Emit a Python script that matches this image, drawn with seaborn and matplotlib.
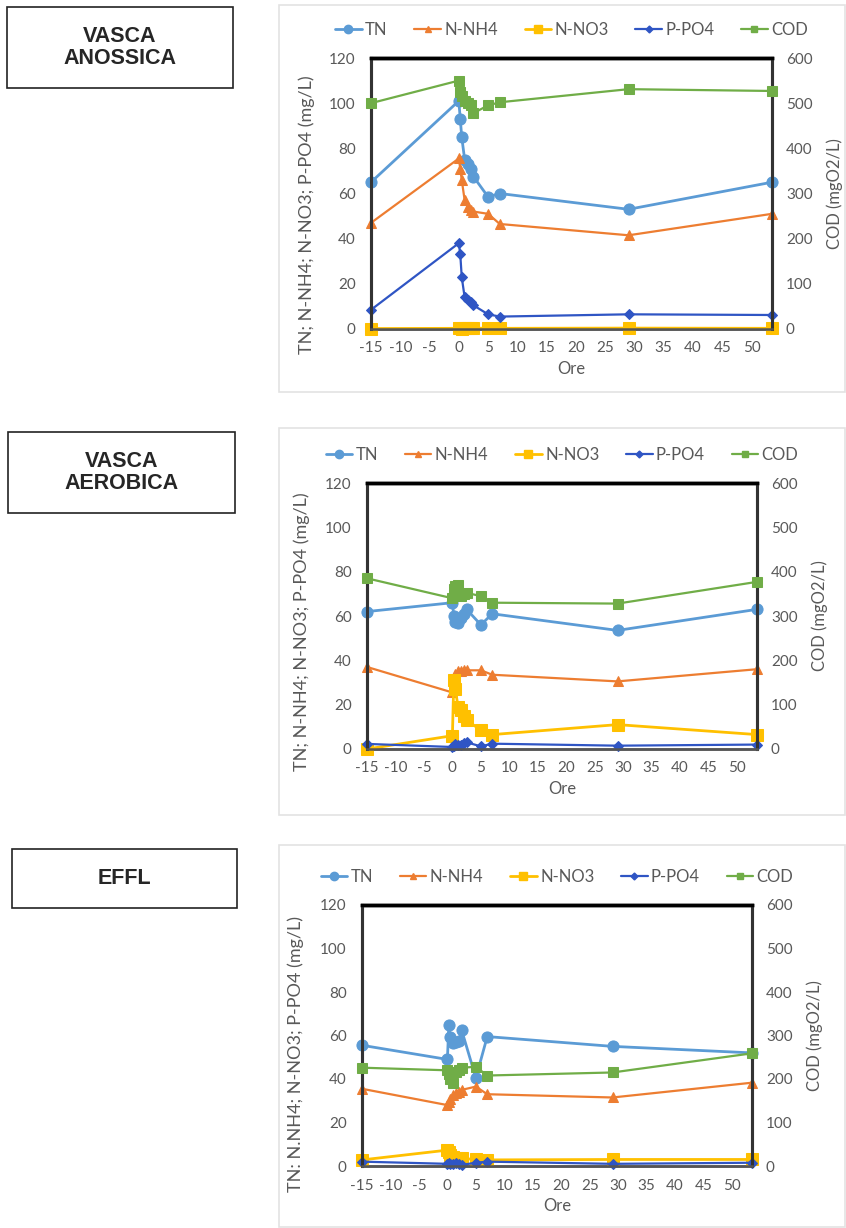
import pandas as pd
import matplotlib
matplotlib.use("Agg")
import matplotlib.pyplot as plt
from matplotlib.lines import Line2D
from matplotlib.patches import Rectangle
import seaborn as sns

# Dati (ore di campionamento e concentrazioni)
ore = [-15, 0, 0.25, 0.5, 1, 1.5, 2, 2.5, 5, 7, 29, 53.5]

anox_tn = [65, 101, 93, 85, 75, 73, 71, 67.5, 58.5, 60, 53, 65]
anox_nh4 = [47, 75.5, 71, 66, 57, 54, 52.5, 52, 51, 46.5, 41.5, 51]
anox_no3 = [0.2, 0.3, 0.3, 0.2, 0.3, 0.4, 0.3, 0.3, 0.4, 0.3, 0.4, 0.3]
anox_po4 = [8.5, 38, 33, 23, 14, 13, 12, 10.5, 6.5, 5.5, 6.5, 6.2]
anox_cod = [500, 550, 525, 515, 505, 500, 497, 478, 495, 502, 531, 527]

aer_tn = [62, 66, 60, 57.5, 57, 59, 61, 63, 56, 61, 53.5, 63]
aer_nh4 = [37, 25.5, 30, 34, 35, 35, 35.5, 35.5, 35.5, 33.5, 30.5, 36]
aer_no3 = [0, 6, 31, 27, 19, 17.5, 15, 13, 8.5, 6.5, 11, 6.5]
aer_po4 = [2.3, 0.9, 1.5, 2.4, 1.8, 2.0, 2.5, 3.0, 1.2, 2.4, 1.5, 2.0]
aer_cod = [385, 340, 362, 368, 370, 345, 350, 352, 345, 330, 328, 377]

effl_tn = [55.5, 49, 65, 59.5, 56.5, 57, 57.5, 62.5, 40.5, 59.5, 55, 52]
effl_nh4 = [35.5, 28, 29.5, 31, 32.5, 33.5, 34, 35, 36.5, 33, 31.5, 38.3]
effl_no3 = [2.8, 7.3, 6.5, 5, 4.3, 3.8, 3.5, 3.5, 3, 2.8, 3, 3]
effl_po4 = [2, 1, 1.5, 1, 0.8, 1.2, 0.8, 0.5, 1.5, 2, 1, 1.5]
effl_cod = [226, 220, 212, 200, 190, 215, 220, 226, 228, 208, 215, 259]

titoli = ["VASCA\nANOSSICA", "VASCA\nAEROBICA", "EFFL"]
ylabels = ["TN; N-NH4; N-NO3; P-PO4 (mg/L)",
           "TN; N-NH4; N-NO3; P-PO4 (mg/L)",
           "TN: N.NH4; N-NO3; P-PO4 (mg/L)"]

serie = ["TN", "N-NH4", "N-NO3", "P-PO4"]
colori = {"TN": "#5B9BD5", "N-NH4": "#ED7D31", "N-NO3": "#FFC000",
          "P-PO4": "#2F55C4", "COD": "#70AD47"}
marker = {"TN": "o", "N-NH4": "^", "N-NO3": "s", "P-PO4": "D", "COD": "s"}
msize = {"TN": 8, "N-NH4": 7, "N-NO3": 8, "P-PO4": 5.5, "COD": 7}
lw = {"TN": 2, "N-NH4": 1.6, "N-NO3": 2, "P-PO4": 1.6, "COD": 1.6}

pannelli = [
    (anox_tn, anox_nh4, anox_no3, anox_po4, anox_cod),
    (aer_tn, aer_nh4, aer_no3, aer_po4, aer_cod),
    (effl_tn, effl_nh4, effl_no3, effl_po4, effl_cod),
]

sns.set_style("white")
plt.rcParams["font.family"] = ["Lato", "DejaVu Sans"]
plt.rcParams["axes.unicode_minus"] = False
GRIGIO = "#595959"

W, H = 846, 1228
fig = plt.figure(figsize=(W / 100, H / 100), dpi=100)


def px_axes(l, t, r, b):
    return fig.add_axes([l / W, 1 - b / H, (r - l) / W, (b - t) / H])


# posizioni in pixel: area del grafico, box titolo, area di tracciamento
area = [(279, 5, 845, 392), (279, 428, 845, 815), (279, 845, 845, 1227)]
box = [(7, 7, 233, 88), (8, 432, 235, 513), (12, 849, 237, 908)]
plot = [(371, 58, 772, 329), (367, 483, 757, 749), (362, 905, 752, 1166)]
lab_pos = [(-0.14, 0.42), (-0.146, 0.44), (-0.15, 0.43)]

for i, (tn, nh4, no3, po4, cod) in enumerate(pannelli):
    # cornice chiara dell'area grafico (stile Excel)
    l, t, r, b = area[i]
    fig.patches.append(Rectangle((l / W, 1 - b / H), (r - l) / W, (b - t) / H,
                                 transform=fig.transFigure, fill=False,
                                 edgecolor="#E3E3E3", lw=1.2))
    # box con il nome della vasca
    l, t, r, b = box[i]
    fig.patches.append(Rectangle((l / W, 1 - b / H), (r - l) / W, (b - t) / H,
                                 transform=fig.transFigure, fill=False,
                                 edgecolor="#222222", lw=1.2))
    fig.text((l + r) / 2 / W, 1 - (t + b) / 2 / H, titoli[i], ha="center",
             va="center", fontsize=15.5, fontweight="bold",
             family="Liberation Sans", linespacing=1.1)

    df = pd.DataFrame({"Ore": ore, "TN": tn, "N-NH4": nh4, "N-NO3": no3,
                       "P-PO4": po4, "COD": cod})

    ax = px_axes(*plot[i])
    ax2 = ax.twinx()
    for s in serie:
        sns.lineplot(data=df, x="Ore", y=s, ax=ax, color=colori[s],
                     marker=marker[s], markersize=msize[s], lw=lw[s],
                     markeredgecolor=colori[s], zorder=3, clip_on=False)
    sns.lineplot(data=df, x="Ore", y="COD", ax=ax2, color=colori["COD"],
                 marker="s", markersize=msize["COD"], lw=lw["COD"],
                 markeredgecolor=colori["COD"], zorder=3, clip_on=False)

    ax.set_xlim(-15, 53.5)
    ax.set_ylim(0, 120)
    ax2.set_ylim(0, 600)
    ax.set_xticks(range(-15, 55, 5))
    ax.set_yticks(range(0, 121, 20))
    ax2.set_yticks(range(0, 601, 100))
    ax.tick_params(axis="y", length=0, labelsize=11, labelcolor=GRIGIO, pad=11)
    ax.tick_params(axis="x", length=0, labelsize=11, labelcolor=GRIGIO, pad=9)
    ax2.tick_params(length=0, labelsize=11, labelcolor=GRIGIO, pad=10)

    ax.set_xlabel("Ore", fontsize=12, color=GRIGIO, labelpad=4)
    ax.set_ylabel(ylabels[i], fontsize=13, color=GRIGIO)
    ax.yaxis.set_label_coords(*lab_pos[i])
    ax2.set_ylabel("COD (mgO2/L)", fontsize=12, color=GRIGIO, labelpad=10)

    # cornice del plot: nera sopra, grigio scuro ai lati
    stile = {"top": ("black", 2.5), "left": ("#333333", 2.2),
             "right": ("#333333", 2.2), "bottom": ("#555555", 1.8)}
    for a in (ax, ax2):
        for lato, (c, w) in stile.items():
            a.spines[lato].set_visible(True)
            a.spines[lato].set_color(c)
            a.spines[lato].set_linewidth(w)
            a.spines[lato].set_zorder(2.5)
    ax.set_facecolor("white")

    handles = [Line2D([], [], color=colori[s], marker=marker[s],
                      markersize=msize[s] - 2, lw=lw[s])
               for s in serie + ["COD"]]
    ax.legend(handles, serie + ["COD"], loc="lower center",
              bbox_to_anchor=(0.5, 1.02), ncol=5, frameon=False,
              fontsize=12, labelcolor=GRIGIO, handlelength=1.6,
              handletextpad=0.2, columnspacing=1.6)

fig.savefig("out.png", dpi=100)
